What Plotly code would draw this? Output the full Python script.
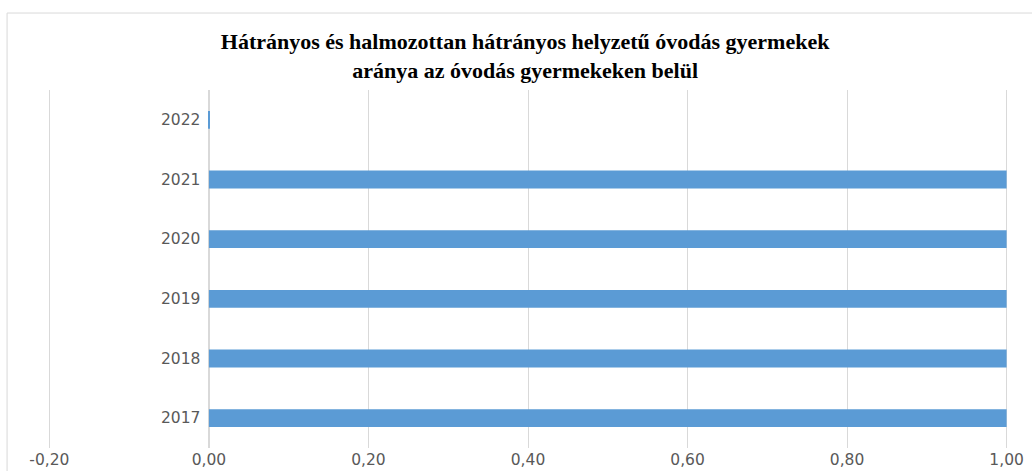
import plotly.graph_objects as go

years = ["2017", "2018", "2019", "2020", "2021", "2022"]
values = [1.00, 1.00, 1.00, 1.00, 1.00, 0.0012]
x_ticks = [-0.2, 0.0, 0.2, 0.4, 0.6, 0.8, 1.0]
x_tick_labels = [f"{v:.2f}".replace(".", ",") for v in x_ticks]
title_text = "Hátrányos és halmozottan hátrányos helyzetű óvodás gyermekek<br>aránya az óvodás gyermekeken belül"

label_font = dict(family="DejaVu Sans, Verdana, sans-serif", size=15.5, color="#595959")
title_font = dict(family="Liberation Serif, Times New Roman, serif", size=22, color="black", weight="bold")

fig = go.Figure()
fig.add_trace(go.Bar(
    y=years, x=values, orientation="h",
    marker=dict(color="#5b9bd5", line=dict(width=0)),
    width=0.3,
))

# category labels drawn next to the 0 line (category index positions)
for i, yr in enumerate(years):
    fig.add_annotation(
        x=0, y=i, xref="x", yref="y", text=yr, showarrow=False,
        xanchor="right", yanchor="middle", xshift=-7,
        font=label_font,
    )

fig.add_shape(type="rect", xref="paper", yref="paper",
              x0=-0.0415, x1=1.06, y0=-0.2, y1=1.215,
              line=dict(color="#d9d9d9", width=1), layer="below")

fig.update_layout(
    width=1032, height=471,
    margin=dict(l=46.6, r=22.6, t=90, b=23, autoexpand=False),
    paper_bgcolor="white", plot_bgcolor="white",
    showlegend=False,
    title=dict(
        text=title_text, x=0.497, xref="paper", xanchor="center",
        y=1 - 49 / 471, yref="container", yanchor="middle",
        font=title_font, automargin=False,
    ),
    xaxis=dict(
        range=[-0.203, 1.003], tickvals=x_ticks, ticktext=x_tick_labels,
        showgrid=True, gridcolor="#d9d9d9", gridwidth=1,
        zeroline=True, zerolinecolor="#d9d9d9", zerolinewidth=1.5,
        showline=False, ticks="", automargin=False,
        tickfont=label_font,
    ),
    yaxis=dict(
        type="category", categoryorder="array", categoryarray=years,
        range=[-0.5, 5.5], showticklabels=False, showgrid=False,
        zeroline=False, showline=False, ticks="", automargin=False,
    ),
)

fig.write_html("out.html", config={"displayModeBar": False},
               post_script="document.body.style.margin='0';")
